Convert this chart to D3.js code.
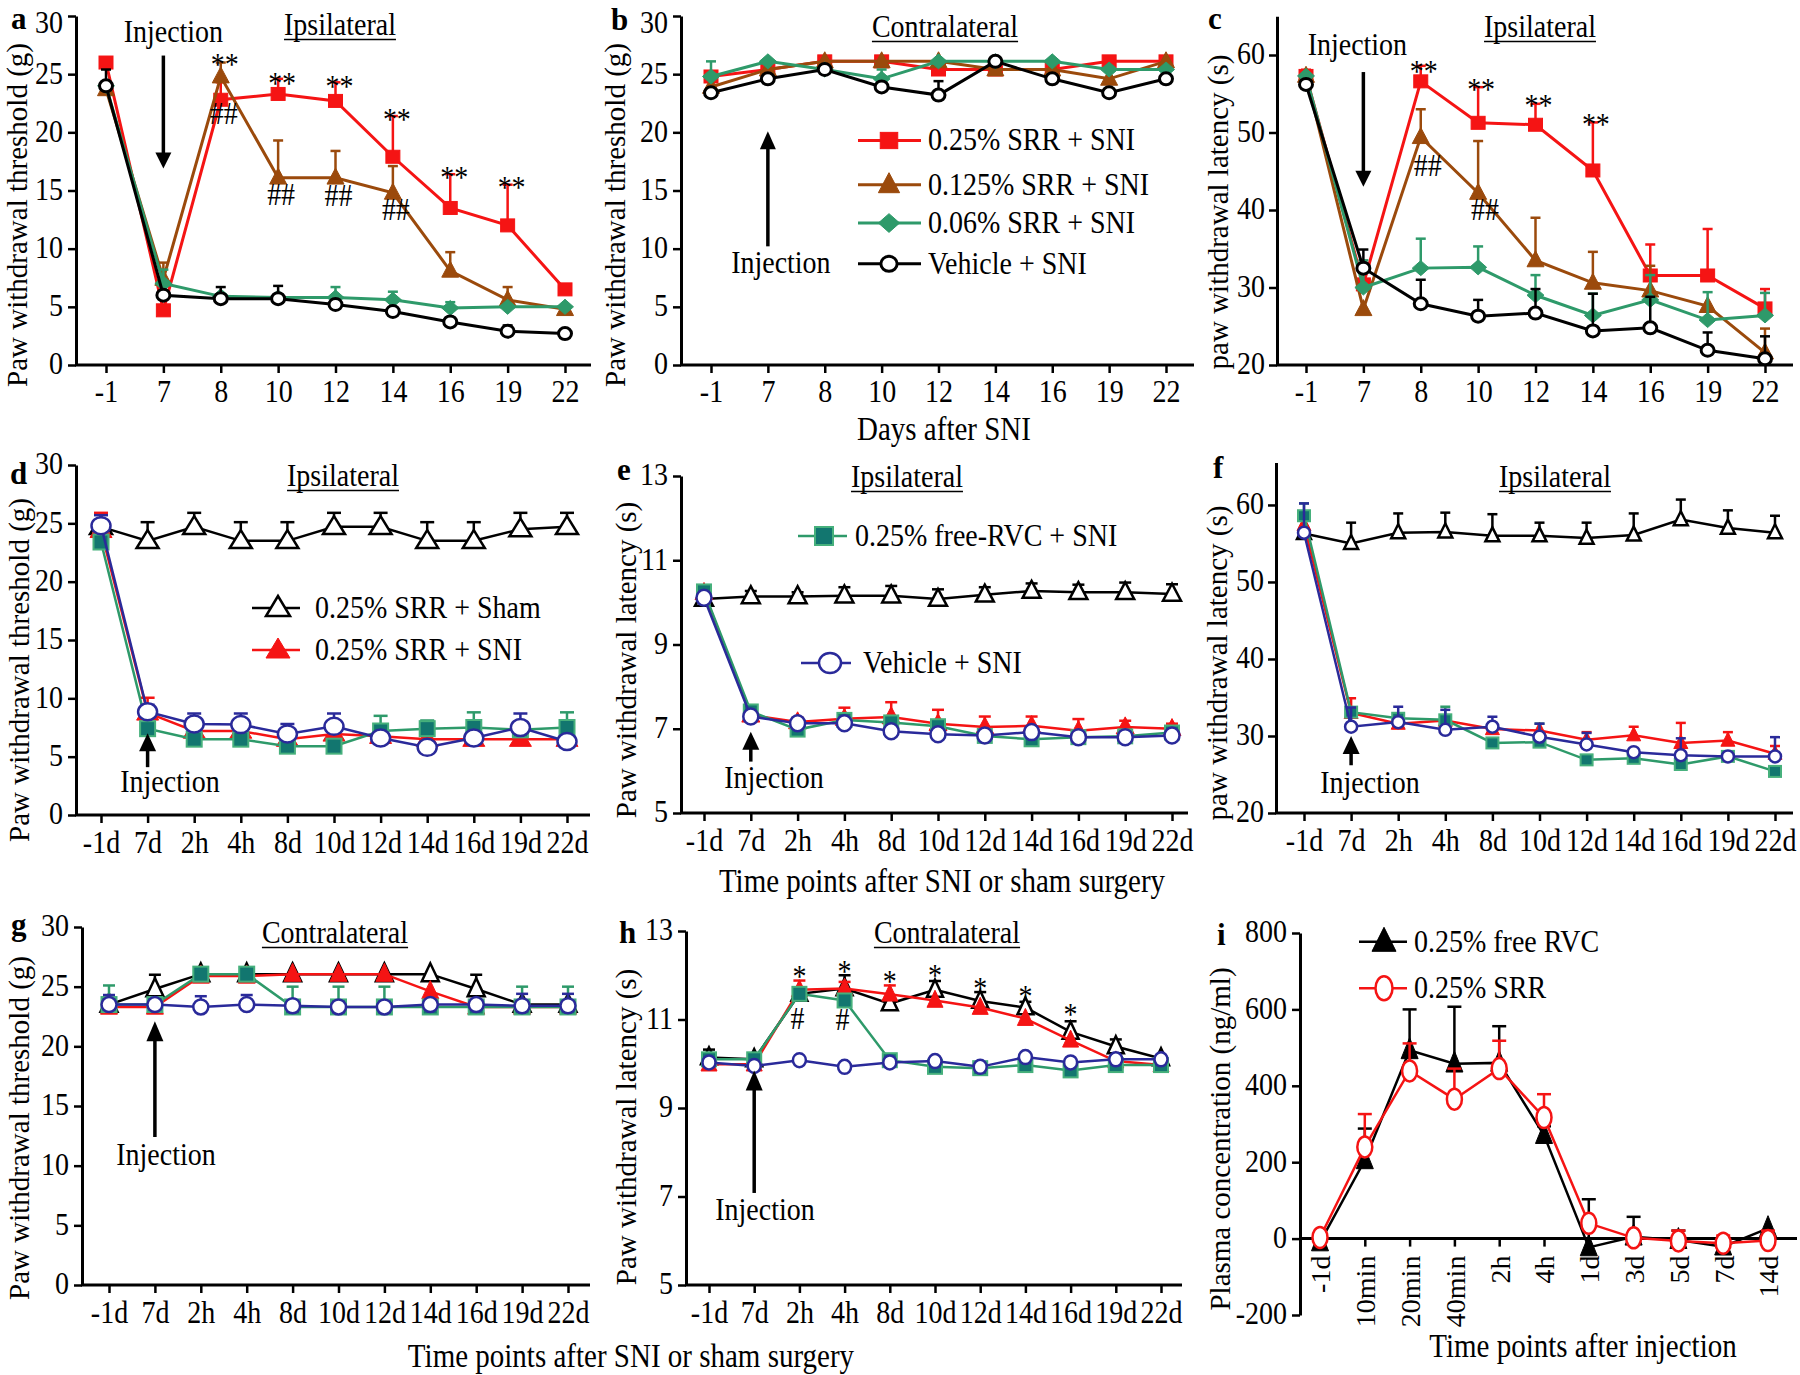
<!DOCTYPE html>
<html><head><meta charset="utf-8">
<script src="https://cdn.jsdelivr.net/npm/d3@7"></script>
<style>
body{margin:0;background:#fff;}
text.sy{transform-box:fill-box;transform-origin:50% 80%;transform:scaleY(1.15);}
</style></head><body>
<svg id="chart" width="1800" height="1375" xmlns="http://www.w3.org/2000/svg"></svg>
<script>
// ---------------- DATA ----------------
const dayCats = ["-1","7","8","10","12","14","16","19","22"];
const tpCats = ["-1d","7d","2h","4h","8d","10d","12d","14d","16d","19d","22d"];
const injCats = ["-1d","10min","20min","40min","2h","4h","1d","3d","5d","7d","14d"];

const ticks30 = [0,5,10,15,20,25,30];
const ticksLat = [20,30,40,50,60];
const ticks13 = [5,7,9,11,13];
const ticksPlasma = [-200,0,200,400,600,800];

// panel a (ipsilateral, threshold)
const a_srr025 = [26.0, 4.7, 22.8, 23.3, 22.7, 17.9, 13.5, 12.0, 6.5];
const a_srr025_err = [0, 0, 1.5, 1.3, 1.6, 3.5, 2.9, 3.5, 0];
const a_srr0125 = [23.7, 7.4, 24.8, 16.1, 16.1, 14.8, 8.1, 5.6, 4.8];
const a_srr0125_err = [0, 1.4, 1.2, 3.2, 2.3, 2.3, 1.6, 1.1, 0];
const a_srr006 = [24.0, 7.0, 5.9, 5.8, 5.8, 5.6, 4.9, 5.0, 5.0];
const a_srr006_err = [0, 1.2, 0, 0, 0.9, 0.7, 0.5, 0, 0];
const a_veh = [24.0, 6.0, 5.7, 5.7, 5.2, 4.6, 3.7, 2.9, 2.7];
const a_veh_err = [1.4, 0, 1.0, 1.1, 0.4, 0, 0, 0.5, 0];

// panel b (contralateral, threshold)
const b_srr025 = [24.8, 25.4, 26.1, 26.1, 25.4, 25.4, 25.4, 26.1, 26.1];
const b_srr0125 = [23.9, 25.4, 26.1, 26.1, 26.1, 25.4, 25.4, 24.6, 26.1];
const b_srr006 = [24.8, 26.1, 25.4, 24.6, 26.1, 26.1, 26.1, 25.4, 25.4];
const b_srr006_err = [1.3, 0, 0, 0.8, 0, 0, 0, 0, 0];
const b_veh = [23.4, 24.6, 25.4, 23.9, 23.2, 26.1, 24.6, 23.4, 24.6];
const b_veh_err = [0, 0, 0, 0, 1.2, 0, 0, 0, 0];

// panel c (ipsilateral, latency)
const c_srr025 = [57.3, 30.4, 56.6, 51.25, 51.0, 45.1, 31.55, 31.55, 27.3];
const c_srr025_err = [0.8, 0, 2.0, 4.6, 2.7, 6.2, 4.0, 6.0, 2.5];
const c_srr0125 = [57.3, 27.2, 49.4, 42.2, 33.5, 30.6, 29.6, 27.6, 21.6];
const c_srr0125_err = [0, 0, 3.6, 6.7, 5.5, 4.0, 3.2, 0, 3.1];
const c_srr006 = [57.3, 30.0, 32.5, 32.6, 29.0, 26.4, 28.4, 25.8, 26.4];
const c_srr006_err = [0, 3.5, 3.8, 2.7, 2.6, 2.8, 3.2, 3.6, 2.9];
const c_veh = [56.2, 32.5, 27.9, 26.3, 26.7, 24.4, 24.8, 21.9, 20.8];
const c_veh_err = [0, 2.4, 3.1, 2.1, 3.1, 4.8, 4.0, 2.3, 2.9];

// panel d (ipsilateral, threshold)
const d_sham = [24.7, 23.5, 24.7, 23.5, 23.5, 24.7, 24.7, 23.5, 23.5, 24.5, 24.7];
const d_sham_err = [0, 1.6, 1.2, 1.6, 1.6, 1.2, 1.2, 1.6, 1.6, 1.4, 1.2];
const d_srr = [24.4, 8.75, 7.2, 7.2, 6.5, 6.95, 6.75, 6.5, 6.5, 6.5, 6.5];
const d_srr_err = [1.5, 1.3, 0, 0, 0, 0, 0, 0, 0, 0, 0];
const d_rvc = [23.4, 7.4, 6.5, 6.5, 5.9, 5.9, 7.2, 7.4, 7.5, 7.3, 7.5];
const d_rvc_err = [0, 0, 0, 0, 0, 0, 1.3, 0.7, 1.3, 0.6, 1.3];
const d_veh = [24.8, 8.85, 7.8, 7.75, 6.95, 7.6, 6.6, 5.8, 6.6, 7.5, 6.3];
const d_veh_err = [0.9, 0.6, 0.9, 0.95, 0.85, 1.1, 0, 0, 0, 1.2, 0];

// panel e (ipsilateral, latency)
const e_sham = [10.08, 10.14, 10.14, 10.16, 10.16, 10.08, 10.18, 10.27, 10.24, 10.24, 10.2];
const e_sham_err = [0, 0.13, 0.1, 0.2, 0.23, 0.23, 0.18, 0.18, 0.18, 0.23, 0.23];
const e_srr = [10.23, 7.32, 7.16, 7.24, 7.28, 7.12, 7.04, 7.07, 6.95, 7.04, 7.0];
const e_srr_err = [0.05, 0.1, 0.1, 0.26, 0.35, 0.33, 0.25, 0.22, 0.28, 0.15, 0.12];
const e_rvc = [10.26, 7.41, 6.98, 7.21, 7.15, 7.06, 6.83, 6.75, 6.8, 6.82, 6.91];
const e_rvc_err = [0, 0, 0, 0.1, 0.1, 0, 0, 0, 0, 0, 0.1];
const e_veh = [10.11, 7.29, 7.13, 7.13, 6.94, 6.87, 6.84, 6.92, 6.8, 6.8, 6.84];
const e_veh_err = [0, 0, 0, 0, 0, 0, 0, 0, 0, 0, 0];

// panel f (ipsilateral, latency)
const f_sham = [56.3, 55.0, 56.4, 56.5, 56.0, 56.0, 55.7, 56.1, 58.1, 57.0, 56.4];
const f_sham_err = [0, 2.7, 2.5, 2.5, 2.8, 1.7, 2.0, 2.8, 2.6, 2.3, 2.2];
const f_srr = [57.4, 33.0, 31.6, 32.0, 30.9, 30.7, 29.5, 30.1, 29.1, 29.4, 27.7];
const f_srr_err = [0, 1.9, 0, 0, 0, 0, 1.0, 1.1, 2.6, 1.1, 1.0];
const f_rvc = [58.6, 33.1, 32.3, 32.1, 29.1, 29.2, 26.9, 27.1, 26.3, 27.35, 25.4];
const f_rvc_err = [1.6, 0, 0, 1.7, 0, 2.4, 0, 0, 0, 0, 0];
const f_veh = [56.4, 31.2, 31.8, 30.8, 31.2, 29.9, 28.9, 27.9, 27.5, 27.35, 27.35];
const f_veh_err = [3.8, 2.5, 2.0, 2.6, 1.3, 1.7, 1.5, 0, 2.2, 0, 2.5];

// panel g (contralateral, threshold)
const g_sham = [23.5, 24.8, 26.05, 26.05, 26.05, 26.05, 26.05, 26.05, 24.8, 23.5, 23.5];
const g_sham_err = [0, 1.2, 0, 0, 0, 0, 0, 0, 1.2, 0, 0];
const g_srr = [23.3, 23.3, 25.9, 25.9, 26.05, 26.05, 26.05, 24.6, 23.3, 23.3, 23.3];
const g_srr_err = [0, 0, 0, 0, 0, 0, 0, 0, 0, 0, 0];
const g_rvc = [23.5, 23.5, 26.05, 26.05, 23.3, 23.3, 23.3, 23.3, 23.3, 23.3, 23.3];
const g_rvc_err = [1.6, 0, 0, 0, 1.7, 1.7, 1.7, 0, 0, 1.7, 1.7];
const g_veh = [23.5, 23.5, 23.3, 23.5, 23.4, 23.3, 23.3, 23.5, 23.5, 23.4, 23.4];
const g_veh_err = [0.8, 0, 0.9, 0.8, 0, 0, 0, 0, 0, 1.0, 1.0];

// panel h (contralateral, latency)
const h_sham = [10.14, 10.1, 11.58, 11.7, 11.36, 11.67, 11.42, 11.27, 10.72, 10.39, 10.12];
const h_sham_err = [0.18, 0.1, 0, 0.3, 0, 0.2, 0.2, 0.13, 0.24, 0.16, 0];
const h_srr = [9.99, 9.99, 11.67, 11.7, 11.57, 11.43, 11.27, 11.02, 10.53, 10.06, 9.97];
const h_srr_err = [0, 0, 0.21, 0.15, 0.2, 0, 0, 0, 0, 0, 0];
const h_rvc = [10.1, 10.1, 11.58, 11.43, 10.08, 9.93, 9.9, 9.97, 9.85, 9.97, 9.97];
const h_rvc_err = [0, 0, 0, 0, 0, 0, 0, 0, 0, 0, 0];
const h_veh = [10.03, 9.95, 10.08, 9.93, 10.03, 10.06, 9.93, 10.15, 10.03, 10.1, 10.1];
const h_veh_err = [0, 0, 0, 0, 0, 0, 0, 0, 0, 0, 0];

// panel i (plasma concentration)
const i_free = [-10, 205, 493, 458, 460, 271, -23, 5, -4, -21, 27];
const i_free_err = [0, 83, 107, 149, 96, 23, 126, 52, 25, 0, 0];
const i_srr = [3, 240, 439, 365, 445, 317, 40, 2, -6, -12, -5];
const i_srr_err = [0, 86, 72, 80, 73, 61, 0, 0, 27, 20, 26];

// significance marks
const a_star = [["8",26.2],["10",24.6],["12",24.3],["14",21.5],["16",16.5],["19",15.6]];
const a_hash = [["8",21.6],["10",14.6],["12",14.5],["14",13.3]];
const c_star = [["8",58.5],["10",56.1],["12",54.0],["14",51.6]];
const c_hash = [["8",45.7],["10",40.0]];
const h_star = [["2h",12.07],["4h",12.19],["8d",11.96],["10d",12.09],["12d",11.81],["14d",11.62],["16d",11.21]];
const h_hash = [["2h",11.02],["4h",10.98]];

// ---------------- STYLE ----------------
const FONT = "'Liberation Serif','Times New Roman',Times,serif";
const FS = 28;
const RED = "#f51414", BROWN = "#9b4a0c", GREEN = "#2e9a6a";
const TEALF = "#12766f", TEALS = "#46b07c", BLUE = "#2a2a9a";

const svg = d3.select('#chart');

function txt(g, x, y, s, opt = {}) {
  return g.append('text').attr('x', x).attr('y', y).text(s)
    .attr('font-family', FONT).attr('font-size', opt.fs || FS)
    .attr('font-weight', opt.bold ? 'bold' : 'normal')
    .attr('text-anchor', opt.anchor || 'start').attr('fill', '#000');
}

function marker(g, type, cx, cy, w, h, fill, stroke, sw) {
  let m;
  if (type === 'circle') {
    m = g.append('ellipse').attr('cx', cx).attr('cy', cy).attr('rx', w / 2).attr('ry', h / 2);
  } else if (type === 'square') {
    m = g.append('rect').attr('x', cx - w / 2).attr('y', cy - h / 2).attr('width', w).attr('height', h);
  } else if (type === 'triangle') {
    m = g.append('polygon').attr('points', `${cx},${cy - h * 0.6} ${cx - w / 2},${cy + h * 0.4} ${cx + w / 2},${cy + h * 0.4}`);
  } else if (type === 'diamond') {
    m = g.append('polygon').attr('points', `${cx},${cy - h / 2} ${cx + w / 2},${cy} ${cx},${cy + h / 2} ${cx - w / 2},${cy}`);
  }
  m.attr('fill', fill).attr('stroke', stroke).attr('stroke-width', sw).attr('stroke-linejoin', 'miter');
}

function series(g, x, y, cats, vals, errs, st) {
  const pts = cats.map((c, i) => [x(c), y(vals[i])]);
  g.append('path').attr('d', d3.line()(pts)).attr('fill', 'none')
    .attr('stroke', st.line).attr('stroke-width', st.lw);
  cats.forEach((c, i) => {
    const e = errs ? errs[i] : 0;
    if (e > 0) {
      const xx = x(c), y0 = y(vals[i]), y1 = y(vals[i] + e);
      g.append('line').attr('x1', xx).attr('x2', xx).attr('y1', y0).attr('y2', y1)
        .attr('stroke', st.line).attr('stroke-width', st.ew || 2.5);
      g.append('line').attr('x1', xx - st.cap).attr('x2', xx + st.cap).attr('y1', y1).attr('y2', y1)
        .attr('stroke', st.line).attr('stroke-width', st.ew || 2.5);
    }
  });
  cats.forEach((c, i) => marker(g, st.type, x(c), y(vals[i]), st.w, st.h, st.fill, st.stroke, st.sw));
}

function legendEntry(g, x1, x2, mx, tx, yy, st, label) {
  g.append('line').attr('x1', x1).attr('x2', x2).attr('y1', yy).attr('y2', yy)
    .attr('stroke', st.line).attr('stroke-width', st.lw);
  marker(g, st.type, mx, yy, st.lw_w || st.w * 1.25, st.lw_h || st.h * 1.25, st.fill, st.stroke, st.sw);
  txt(g, tx, yy + 10, label);
}

function arrow(g, xx, yTail, yTip, hw, hl) {
  const dir = yTip > yTail ? 1 : -1;
  g.append('line').attr('x1', xx).attr('x2', xx).attr('y1', yTail).attr('y2', yTip - dir * hl * 0.8)
    .attr('stroke', '#000').attr('stroke-width', 3.5);
  g.append('polygon').attr('points', `${xx},${yTip} ${xx - hw / 2},${yTip - dir * hl} ${xx + hw / 2},${yTip - dir * hl}`)
    .attr('fill', '#000');
}

function underlinedTitle(g, cx, by, s) {
  const t = txt(g, cx, by, s, { anchor: 'middle' });
  const w = t.node().getComputedTextLength();
  g.append('line').attr('x1', cx - w / 2).attr('x2', cx + w / 2).attr('y1', by + 4.5).attr('y2', by + 4.5)
    .attr('stroke', '#000').attr('stroke-width', 1.6);
}

function yLabel(g, bx, cy, s) {
  g.append('text').attr('transform', `translate(${bx},${cy}) rotate(-90)`)
    .attr('text-anchor', 'middle').attr('font-family', FONT).attr('font-size', 29).attr('fill', '#000').text(s);
}

function panel(p) {
  const g = svg.append('g');
  const x = d3.scalePoint().domain(p.cats).range([p.p0, p.p1]);
  const y = d3.scaleLinear().domain(p.yDom).range([p.yB, p.yT]);
  // y axis
  const ya = g.append('g').attr('transform', `translate(${p.ax},0)`)
    .call(d3.axisLeft(y).tickValues(p.yTicks).tickSize(8).tickPadding(p.yPad || 5).tickSizeOuter(0).tickFormat(d3.format('d')));
  ya.select('.domain').attr('stroke', '#000').attr('stroke-width', 3);
  ya.selectAll('.tick line').attr('stroke', '#000').attr('stroke-width', 2.5);
  ya.selectAll('.tick text').attr('font-family', FONT).attr('font-size', FS).attr('fill', '#000')
    .text(d => d < 0 ? '-' + Math.abs(d) : d);
  if (p.topShift) {
    // keep the topmost label inside the picture (offset relative to its tick)
    ya.selectAll('.tick text').filter(d => d === p.yTicks[p.yTicks.length - 1]).attr('dy', null).attr('y', p.topShift);
  }
  // x axis
  const xy = y(p.xAxisAt !== undefined ? p.xAxisAt : p.yDom[0]);
  g.append('line').attr('x1', p.ax - 1).attr('x2', p.axEnd).attr('y1', xy).attr('y2', xy)
    .attr('stroke', '#000').attr('stroke-width', 3);
  const xa = g.append('g').attr('transform', `translate(0,${xy})`)
    .call(d3.axisBottom(x).tickSize(8).tickPadding(p.xPad || 10).tickSizeOuter(0));
  xa.select('.domain').remove();
  xa.selectAll('.tick line').attr('stroke', '#000').attr('stroke-width', 2.5);
  const tt = xa.selectAll('.tick text').attr('font-family', FONT).attr('font-size', FS).attr('fill', '#000');
  if (p.rotateX) {
    tt.attr('transform', 'rotate(-90)').attr('x', -17).attr('y', 0).attr('dy', '0.35em').attr('text-anchor', 'end');
  }
  // series
  p.series.forEach(s => series(g, x, y, p.cats, s.vals, s.errs, s.st));
  // labels
  txt(g, p.letter[1], p.letter[2], p.letter[0], { bold: true, fs: 31 }).classed('letter', true);
  if (p.title) underlinedTitle(g, p.title[1], p.title[2], p.title[0]);
  yLabel(g, p.ylab[1], p.ylab[2], p.ylab[0]);
  return { g, x, y };
}

// styles
const R1 = {
  red: { type: 'square', w: 14, h: 13, fill: RED, stroke: RED, sw: 1, line: RED, lw: 3, cap: 5 },
  brown: { type: 'triangle', w: 17, h: 16, fill: BROWN, stroke: BROWN, sw: 1, line: BROWN, lw: 3, cap: 5 },
  green: { type: 'diamond', w: 17, h: 15, fill: GREEN, stroke: GREEN, sw: 1, line: GREEN, lw: 3, cap: 5 },
  black: { type: 'circle', w: 13, h: 12, fill: '#fff', stroke: '#000', sw: 3, line: '#000', lw: 3, cap: 5 }
};
function rowStyles(k) {
  return {
    sham: { type: 'triangle', w: k.tw, h: k.th, fill: '#fff', stroke: '#000', sw: 2.5, line: '#000', lw: 2.5, cap: k.cap },
    red: { type: 'triangle', w: k.tw, h: k.th, fill: RED, stroke: RED, sw: 1, line: RED, lw: 2.5, cap: k.cap },
    rvc: { type: 'square', w: k.sw, h: k.sh, fill: TEALF, stroke: TEALS, sw: 2, line: GREEN, lw: 2.5, cap: k.cap },
    veh: { type: 'circle', w: k.cw, h: k.ch, fill: '#fff', stroke: BLUE, sw: 2.5, line: BLUE, lw: 2.5, cap: k.cap }
  };
}
const SD = rowStyles({ tw: 22, th: 18, sw: 15, sh: 15, cw: 19, ch: 17, cap: 7 });
const SE = rowStyles({ tw: 18, th: 17, sw: 14, sh: 14, cw: 15, ch: 16, cap: 6 });
const SF = rowStyles({ tw: 14, th: 14, sw: 12, sh: 11, cw: 12, ch: 12, cap: 5 });
const SG = rowStyles({ tw: 17, th: 18, sw: 15, sh: 15, cw: 15, ch: 15, cap: 6 });
const SH = rowStyles({ tw: 16, th: 17, sw: 14, sh: 14, cw: 13, ch: 14, cap: 6 });
const SI = {
  free: { type: 'triangle', w: 17, h: 21, fill: '#000', stroke: '#000', sw: 1, line: '#000', lw: 2.5, cap: 7 },
  srr: { type: 'circle', w: 15, h: 21, fill: '#fff', stroke: RED, sw: 2.5, line: RED, lw: 2.5, cap: 7 }
};

function marks(P, list, s, dx, dyPx, fs) {
  list.forEach(([c, v]) => txt(P.g, P.x(c) + dx, P.y(v) + dyPx, s, { anchor: 'middle', fs: fs || FS }));
}

// ---------------- PANEL a ----------------
const A = panel({
  cats: dayCats, p0: 106, p1: 565, ax: 76, axEnd: 591, yDom: [0, 30], yB: 365, yT: 16, yTicks: ticks30, topShift: 17, xPad: 9,
  letter: ['a', 11, 29], title: ['Ipsilateral', 340, 35], ylab: ['Paw withdrawal threshold (g)', 27, 215],
  series: [
    { vals: a_srr025, errs: a_srr025_err, st: R1.red },
    { vals: a_srr0125, errs: a_srr0125_err, st: R1.brown },
    { vals: a_srr006, errs: a_srr006_err, st: R1.green },
    { vals: a_veh, errs: a_veh_err, st: R1.black }
  ]
});
txt(A.g, A.x('7') + 10, A.y(27.8), 'Injection', { anchor: 'middle' });
arrow(A.g, A.x('7'), A.y(26.6), A.y(16.9), 16, 16);
marks(A, a_star, '**', 4, 15);
marks(A, a_hash, '##', 3, 10);

// ---------------- PANEL b ----------------
const B = panel({
  cats: dayCats, p0: 711, p1: 1166, ax: 681, axEnd: 1194, yDom: [0, 30], yB: 365, yT: 16, yTicks: ticks30, topShift: 17, xPad: 9,
  letter: ['b', 611, 30], title: ['Contralateral', 945, 37], ylab: ['Paw withdrawal threshold (g)', 625, 215],
  series: [
    { vals: b_srr025, errs: null, st: R1.red },
    { vals: b_srr0125, errs: null, st: R1.brown },
    { vals: b_srr006, errs: b_srr006_err, st: R1.green },
    { vals: b_veh, errs: b_veh_err, st: R1.black }
  ]
});
arrow(B.g, B.x('7'), B.y(10.2), B.y(20.1), 16, 18);
txt(B.g, B.x('7') + 13, B.y(7.9), 'Injection', { anchor: 'middle' });
legendEntry(B.g, 858, 921, 889, 928, 140.5, R1.red, '0.25% SRR + SNI');
legendEntry(B.g, 858, 921, 889, 928, 184.7, R1.brown, '0.125% SRR + SNI');
legendEntry(B.g, 858, 921, 889, 928, 223, R1.green, '0.06% SRR + SNI');
legendEntry(B.g, 858, 921, 889, 928, 263.8, R1.black, 'Vehicle + SNI');
txt(B.g, 944, 440, 'Days after SNI', { anchor: 'middle', fs: 29 });

// ---------------- PANEL c ----------------
const C = panel({
  cats: dayCats, p0: 1306, p1: 1765, ax: 1277, axEnd: 1793, yDom: [20, 65], yB: 365, yT: 16.25, yTicks: ticksLat, yPad: 4, xPad: 9,
  letter: ['c', 1208, 29], title: ['Ipsilateral', 1540, 37], ylab: ['paw withdrawal latency (s)', 1228, 212],
  series: [
    { vals: c_srr025, errs: c_srr025_err, st: R1.red },
    { vals: c_srr0125, errs: c_srr0125_err, st: R1.brown },
    { vals: c_srr006, errs: c_srr006_err, st: R1.green },
    { vals: c_veh, errs: c_veh_err, st: R1.black }
  ]
});
txt(C.g, C.x('7') - 6, C.y(60), 'Injection', { anchor: 'middle' });
arrow(C.g, C.x('7'), C.y(57.8), C.y(43.0), 16, 16);
marks(C, c_star, '**', 3, 15);
marks(C, c_hash, '##', 7, 10);

// ---------------- PANEL d ----------------
const D = panel({
  cats: tpCats, p0: 101, p1: 567, ax: 76, axEnd: 590, yDom: [0, 30], yB: 815, yT: 465, yTicks: ticks30,
  letter: ['d', 10, 484], title: ['Ipsilateral', 343, 486], ylab: ['Paw withdrawal threshold (g)', 29, 670],
  series: [
    { vals: d_sham, errs: d_sham_err, st: SD.sham },
    { vals: d_srr, errs: d_srr_err, st: SD.red },
    { vals: d_rvc, errs: d_rvc_err, st: SD.rvc },
    { vals: d_veh, errs: d_veh_err, st: SD.veh }
  ]
});
arrow(D.g, D.x('7d'), D.y(4.1), D.y(7.0), 17, 18);
txt(D.g, 170, D.y(2.0), 'Injection', { anchor: 'middle' });
legendEntry(D.g, 252, 300, 278, 315, 608, Object.assign({}, SD.sham, { lw_w: 24, lw_h: 20 }), '0.25% SRR + Sham');
legendEntry(D.g, 252, 300, 278, 315, 650, Object.assign({}, SD.red, { lw_w: 24, lw_h: 20 }), '0.25% SRR + SNI');

// ---------------- PANEL e ----------------
const E = panel({
  cats: tpCats, p0: 704, p1: 1172, ax: 681, axEnd: 1188, yDom: [5, 13], yB: 813, yT: 476, yTicks: ticks13,
  letter: ['e', 617, 480], title: ['Ipsilateral', 907, 487], ylab: ['Paw withdrawal latency (s)', 636, 660],
  series: [
    { vals: e_sham, errs: e_sham_err, st: SE.sham },
    { vals: e_srr, errs: e_srr_err, st: SE.red },
    { vals: e_rvc, errs: e_rvc_err, st: SE.rvc },
    { vals: e_veh, errs: e_veh_err, st: SE.veh }
  ]
});
arrow(E.g, E.x('7d'), E.y(6.22), E.y(6.93), 17, 18);
txt(E.g, 774, E.y(5.59), 'Injection', { anchor: 'middle' });
legendEntry(E.g, 798, 847, 824, 855, 536, Object.assign({}, SE.rvc, { lw_w: 18, lw_h: 18 }), '0.25% free-RVC + SNI');
legendEntry(E.g, 801, 851, 830, 863, 663, Object.assign({}, SE.veh, { lw_w: 22, lw_h: 20 }), 'Vehicle + SNI');
txt(E.g, 942, 892, 'Time points after SNI or sham surgery', { anchor: 'middle', fs: 29 });

// ---------------- PANEL f ----------------
const F = panel({
  cats: tpCats, p0: 1304, p1: 1775, ax: 1276, axEnd: 1793, yDom: [20, 65.5], yB: 813, yT: 462.6, yTicks: ticksLat, yPad: 4,
  letter: ['f', 1213, 478], title: ['Ipsilateral', 1555, 487], ylab: ['paw withdrawal latency (s)', 1227, 663],
  series: [
    { vals: f_sham, errs: f_sham_err, st: SF.sham },
    { vals: f_srr, errs: f_srr_err, st: SF.red },
    { vals: f_rvc, errs: f_rvc_err, st: SF.rvc },
    { vals: f_veh, errs: f_veh_err, st: SF.veh }
  ]
});
arrow(F.g, F.x('7d'), F.y(26.2), F.y(30.0), 17, 18);
txt(F.g, 1370, F.y(22.6), 'Injection', { anchor: 'middle' });

// ---------------- PANEL g ----------------
const G = panel({
  cats: tpCats, p0: 109, p1: 568, ax: 82, axEnd: 590, yDom: [0, 30], yB: 1285, yT: 927, yTicks: ticks30,
  letter: ['g', 11, 935], title: ['Contralateral', 335, 943], ylab: ['Paw withdrawal threshold (g)', 29, 1128],
  series: [
    { vals: g_sham, errs: g_sham_err, st: SG.sham },
    { vals: g_srr, errs: g_srr_err, st: SG.red },
    { vals: g_rvc, errs: g_rvc_err, st: SG.rvc },
    { vals: g_veh, errs: g_veh_err, st: SG.veh }
  ]
});
arrow(G.g, G.x('7d'), G.y(12.4), G.y(22.1), 17, 20);
txt(G.g, 166, G.y(10.06), 'Injection', { anchor: 'middle' });
txt(G.g, 631, 1367, 'Time points after SNI or sham surgery', { anchor: 'middle', fs: 29 });

// ---------------- PANEL h ----------------
const H = panel({
  cats: tpCats, p0: 709, p1: 1161, ax: 686, axEnd: 1182, yDom: [5, 13], yB: 1285, yT: 931, yTicks: ticks13,
  letter: ['h', 619, 943], title: ['Contralateral', 947, 943], ylab: ['Paw withdrawal latency (s)', 636, 1127],
  series: [
    { vals: h_sham, errs: h_sham_err, st: SH.sham },
    { vals: h_srr, errs: h_srr_err, st: SH.red },
    { vals: h_rvc, errs: h_rvc_err, st: SH.rvc },
    { vals: h_veh, errs: h_veh_err, st: SH.veh }
  ]
});
arrow(H.g, H.x('7d'), H.y(7.08), H.y(9.85), 17, 20);
txt(H.g, 765, H.y(6.47), 'Injection', { anchor: 'middle' });
marks(H, h_star, '*', 0, 15);
marks(H, h_hash, '#', -2, 10);

// ---------------- PANEL i ----------------
const I = panel({
  cats: injCats, p0: 1320, p1: 1768, ax: 1300, axEnd: 1797, yDom: [-200, 800], yB: 1315, yT: 933, yTicks: ticksPlasma,
  xAxisAt: 0, rotateX: true,
  letter: ['i', 1217, 945], title: null, ylab: ['Plasma concentration (ng/ml)', 1230, 1139],
  series: [
    { vals: i_free, errs: i_free_err, st: SI.free },
    { vals: i_srr, errs: i_srr_err, st: SI.srr }
  ]
});
legendEntry(I.g, 1359, 1407, 1384, 1414, 941.7, Object.assign({}, SI.free, { lw_w: 24, lw_h: 24 }), '0.25% free RVC');
legendEntry(I.g, 1359, 1407, 1384, 1414, 988.3, Object.assign({}, SI.srr, { lw_w: 17, lw_h: 24 }), '0.25% SRR');
txt(I.g, 1583, 1357, 'Time points after injection', { anchor: 'middle', fs: 29 });

// taller glyphs for horizontal text, like the reference typeface
svg.selectAll('text').filter(function () {
  return !this.getAttribute('transform') && !this.classList.contains('letter');
}).classed('sy', true);
</script>
</body></html>
